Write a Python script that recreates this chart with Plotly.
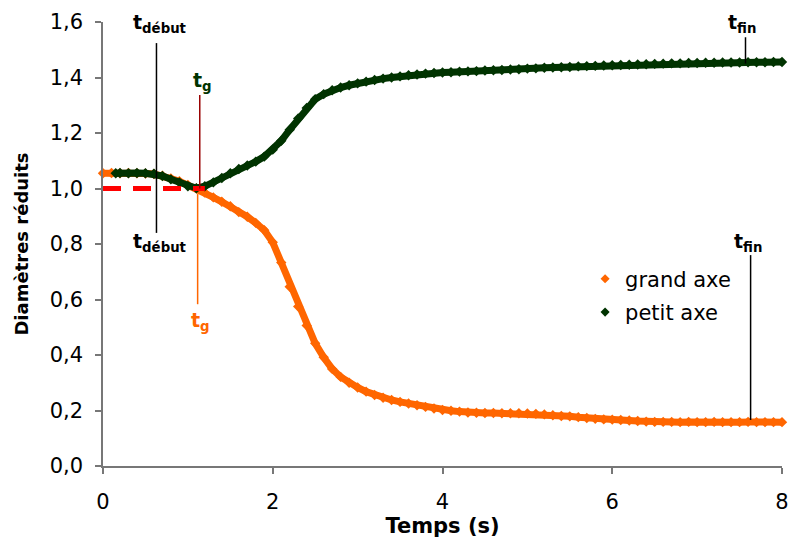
import plotly.graph_objects as go

# temps (s) et diamètres réduits
t_grand = [0.0, 0.1, 0.2, 0.3, 0.4, 0.5, 0.6, 0.7, 0.8, 0.9,
           1.0, 1.1, 1.2, 1.3, 1.4, 1.5, 1.6, 1.7, 1.8, 1.9,
           2.0, 2.1, 2.2, 2.3, 2.4, 2.5, 2.6, 2.7, 2.8, 2.9,
           3.0, 3.1, 3.2, 3.3, 3.4, 3.5, 3.6, 3.7, 3.8, 3.9,
           4.0, 4.1, 4.2, 4.3, 4.4, 4.5, 4.6, 4.7, 4.8, 4.9,
           5.0, 5.1, 5.2, 5.3, 5.4, 5.5, 5.6, 5.7, 5.8, 5.9,
           6.0, 6.1, 6.2, 6.3, 6.4, 6.5, 6.6, 6.7, 6.8, 6.9,
           7.0, 7.1, 7.2, 7.3, 7.4, 7.5, 7.6, 7.7, 7.8, 7.9, 8.0]
grand_axe = [1.055, 1.056, 1.055, 1.056, 1.055, 1.054, 1.052, 1.046, 1.036, 1.026,
             1.013, 1.000, 0.985, 0.968, 0.952, 0.936, 0.915, 0.898, 0.876, 0.850,
             0.806, 0.733, 0.646, 0.575, 0.506, 0.442, 0.392, 0.350, 0.321, 0.300,
             0.283, 0.268, 0.256, 0.246, 0.238, 0.231, 0.225, 0.219, 0.213, 0.207,
             0.202, 0.199, 0.196, 0.193, 0.192, 0.191, 0.191, 0.190, 0.190, 0.190,
             0.189, 0.188, 0.186, 0.183, 0.180, 0.179, 0.176, 0.173, 0.170, 0.168,
             0.167, 0.166, 0.164, 0.162, 0.160, 0.159, 0.159, 0.159, 0.158, 0.159,
             0.158, 0.158, 0.159, 0.158, 0.158, 0.158, 0.159, 0.158, 0.158, 0.158, 0.158]

t_petit = [0.15, 0.2, 0.3, 0.4, 0.5, 0.6, 0.7, 0.8, 0.9,
           1.0, 1.1, 1.2, 1.3, 1.4, 1.5, 1.6, 1.7, 1.8, 1.9,
           2.0, 2.1, 2.2, 2.3, 2.4, 2.5, 2.6, 2.7, 2.8, 2.9,
           3.0, 3.1, 3.2, 3.3, 3.4, 3.5, 3.6, 3.7, 3.8, 3.9,
           4.0, 4.1, 4.2, 4.3, 4.4, 4.5, 4.6, 4.7, 4.8, 4.9,
           5.0, 5.1, 5.2, 5.3, 5.4, 5.5, 5.6, 5.7, 5.8, 5.9,
           6.0, 6.1, 6.2, 6.3, 6.4, 6.5, 6.6, 6.7, 6.8, 6.9,
           7.0, 7.1, 7.2, 7.3, 7.4, 7.5, 7.6, 7.7, 7.8, 7.9, 8.0]
petit_axe = [1.055, 1.056, 1.055, 1.056, 1.055, 1.053, 1.045, 1.033, 1.022,
             1.008, 1.001, 1.008, 1.022, 1.038, 1.055, 1.070, 1.083, 1.097, 1.115,
             1.140, 1.172, 1.212, 1.252, 1.290, 1.322, 1.340, 1.354, 1.364, 1.372,
             1.379, 1.385, 1.391, 1.396, 1.400, 1.404, 1.408, 1.411, 1.414, 1.416,
             1.418, 1.419, 1.421, 1.422, 1.423, 1.425, 1.426, 1.427, 1.429, 1.430,
             1.432, 1.433, 1.435, 1.436, 1.437, 1.438, 1.440, 1.441, 1.442, 1.443,
             1.444, 1.445, 1.446, 1.447, 1.448, 1.449, 1.450, 1.451, 1.451, 1.452,
             1.452, 1.453, 1.453, 1.454, 1.454, 1.454, 1.455, 1.455, 1.455, 1.456, 1.456]

# niveau de référence (pointillés rouges)
ref_t = [0.0, 1.2]
ref_y = [1.0, 1.0]

# repères verticaux: (x, y bas, y haut, couleur)
reperes = [
    (0.63, 0.84, 1.524, "black"),      # t début
    (1.14, 1.0, 1.337, "#990000"),     # t g petit axe
    (1.115, 0.583, 0.98, "#FF6600"),   # t g grand axe
    (7.57, 1.45, 1.545, "black"),      # t fin haut
    (7.63, 0.166, 0.76, "black"),      # t fin bas
]
# étiquettes: (texte, x, y, couleur)
etiquettes = [
    ("<b>t<sub>début</sub></b>", 0.67, 1.596, "black"),
    ("<b>t<sub>début</sub></b>", 0.67, 0.807, "black"),
    ("<b>t<sub>g</sub></b>", 1.172, 1.387, "#003300"),
    ("<b>t<sub>g</sub></b>", 1.152, 0.519, "#FF6600"),
    ("<b>t<sub>fin</sub></b>", 7.53, 1.593, "black"),
    ("<b>t<sub>fin</sub></b>", 7.60, 0.804, "black"),
]

ORANGE = "#FF6600"
VERT = "#003300"
FONT = "DejaVu Sans"

fig = go.Figure()
fig.add_trace(go.Scatter(x=t_grand, y=grand_axe, mode="lines+markers",
                         line=dict(color=ORANGE, width=7),
                         marker=dict(symbol="diamond", size=8, color=ORANGE),
                         showlegend=False, cliponaxis=False))
fig.add_trace(go.Scatter(x=t_petit, y=petit_axe, mode="lines+markers",
                         line=dict(color=VERT, width=7),
                         marker=dict(symbol="diamond", size=8, color=VERT),
                         showlegend=False, cliponaxis=False))
fig.add_trace(go.Scatter(x=ref_t, y=ref_y, mode="lines",
                         line=dict(color="#FF0000", width=5, dash="18px,12px"),
                         showlegend=False))
# entrées de légende
fig.add_trace(go.Scatter(x=[None], y=[None], mode="markers", name="grand axe",
                         marker=dict(symbol="diamond", size=7, color=ORANGE),
                         legendgroup="a"))
fig.add_trace(go.Scatter(x=[None], y=[None], mode="markers", name="petit axe",
                         marker=dict(symbol="diamond", size=7, color=VERT),
                         legendgroup="b"))

for x, y0, y1, c in reperes:
    fig.add_shape(type="line", xref="x", yref="y", x0=x, x1=x, y0=y0, y1=y1,
                  line=dict(color=c, width=1.5))
for txt, x, y, c in etiquettes:
    fig.add_annotation(text=txt, x=x, y=y, xref="x", yref="y", showarrow=False,
                       font=dict(family=FONT, size=19, color=c))

fig.update_layout(
    width=788, height=540,
    margin=dict(l=103, r=6, t=22, b=74),
    plot_bgcolor="white", paper_bgcolor="white",
    separators=", ",
    font=dict(family=FONT, size=21, color="black"),
    legend=dict(x=0.71, y=0.467, xanchor="left", yanchor="top",
                font=dict(family=FONT, size=21), tracegroupgap=3,
                bgcolor="rgba(0,0,0,0)"),
    xaxis=dict(range=[0, 8], tickvals=[0, 2, 4, 6, 8], showgrid=False,
               zeroline=False, showline=True, linecolor="#777777", linewidth=1.5,
               ticks="outside", ticklen=6, tickcolor="#777777", tickwidth=1.5,
               ticklabelstandoff=10, automargin=False, ticklabeloverflow="allow",
               tickfont=dict(family=FONT, size=21),
               title=dict(text="<b>Temps (s)</b>", standoff=4,
                          font=dict(family=FONT, size=21))),
    yaxis=dict(range=[0, 1.6], dtick=0.2, tickformat=".1f", showgrid=False,
               zeroline=False, showline=True, linecolor="#777777", linewidth=1.5,
               ticks="outside", ticklen=6, tickcolor="#777777", tickwidth=1.5,
               ticklabelstandoff=8, automargin=False,
               tickfont=dict(family=FONT, size=21),
               title=dict(text="<b>Diamètres réduits</b>", standoff=16,
                          font=dict(family=FONT, size=18))),
)

# la page ajoute une marge de 8 px autour du graphique : on la retire
fig.write_html("out.html", config={"displayModeBar": False},
               post_script="document.body.style.margin='0';")
